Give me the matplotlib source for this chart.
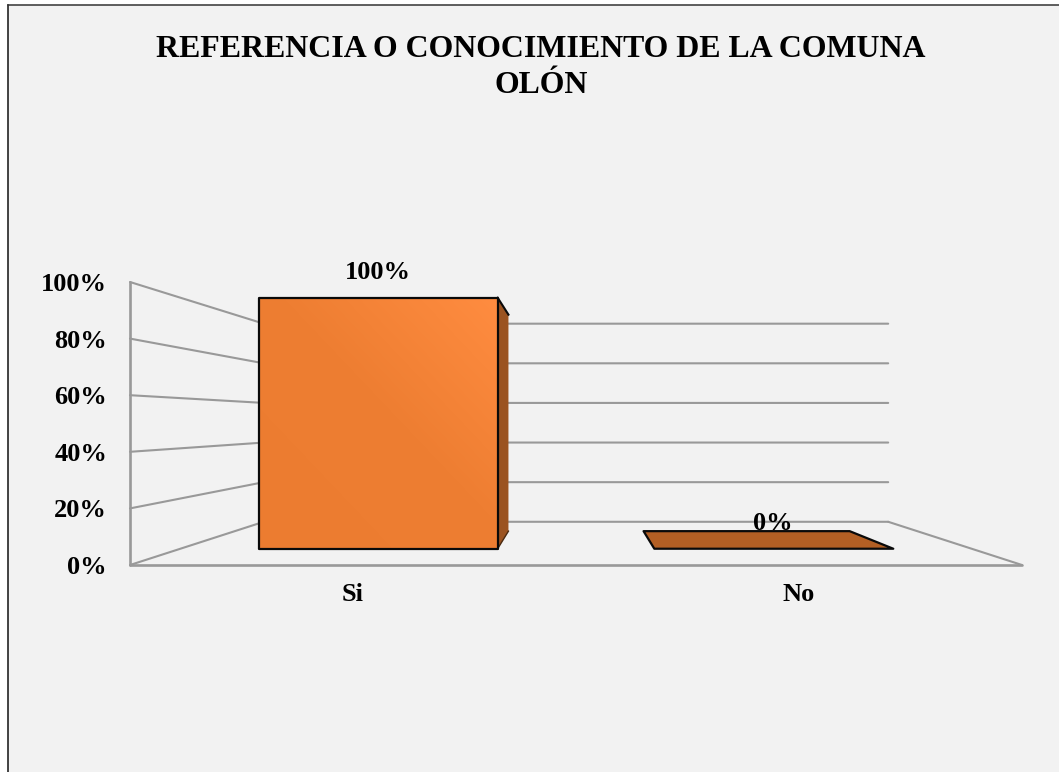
import numpy as np
import matplotlib
matplotlib.use("Agg")
import matplotlib.pyplot as plt
from matplotlib.patches import Polygon, Rectangle
from matplotlib.lines import Line2D
from matplotlib.colors import LinearSegmentedColormap

title = "REFERENCIA O CONOCIMIENTO DE LA COMUNA\nOLÓN"
categories = ["Si", "No"]
values = [100, 0]
value_labels = ["100%", "0%"]
yticks = [0, 20, 40, 60, 80, 100]
ytick_labels = ["0%", "20%", "40%", "60%", "80%", "100%"]

W, H = 1059, 772
BG = "#f2f2f2"
GRID = "#999999"
plt.rcParams["font.family"] = ["Liberation Serif"]
plt.rcParams["font.weight"] = "bold"

fig = plt.figure(figsize=(W / 100, H / 100), dpi=100, facecolor="white")
fig.add_artist(Rectangle((8 / W, 0), 1 - 8 / W, 1 - 4.5 / H, transform=fig.transFigure,
                         facecolor=BG, edgecolor="none", zorder=-5))
fig.add_artist(Line2D([8 / W, 8 / W], [0, 1 - 4.5 / H], color="#111111", lw=1.1, zorder=-4))
fig.add_artist(Line2D([8 / W, 1], [1 - 4.5 / H, 1 - 4.5 / H], color="#333333", lw=1.1, zorder=-4))

# front plane of the chart: x 130..1022 px, y 565..282 px
ax = fig.add_axes([130 / W, 1 - 565 / H, 892 / W, 283 / H], facecolor="none")
ax.set_xlim(-0.5, len(categories) - 0.5)
ax.set_ylim(0, 100)
for s in ax.spines.values():
    s.set_visible(False)
ax.set_xticks(range(len(categories)), categories)
ax.set_yticks(yticks, ytick_labels)
ax.tick_params(axis="both", length=0, labelsize=19)
ax.tick_params(axis="y", pad=16.5)
ax.tick_params(axis="x", pad=13)
for tl_ in ax.get_yticklabels():
    tl_.set_y(tl_.get_position()[1])

# perspective towards the centre of the plot box
XC, YC = 0.5, 50.9
F_WALL, F_FRONT, F_BACK = 0.70, 0.887, 0.765
HALF = 0.302


def proj(x, y, f):
    return (XC + (x - XC) * f, YC + (y - YC) * f)


x0, x1 = ax.get_xlim()
kw = dict(color=GRID, lw=1.5, solid_capstyle="round", clip_on=False, zorder=1)
for t in yticks:
    a = proj(x0, t, 1)
    b = proj(x0, t, F_WALL)
    c = proj(x1, t, F_WALL)
    ax.plot([a[0], b[0], c[0]], [a[1], b[1], c[1]], **kw)
ax.plot([x0, x0], [0, 100], **{**kw, "lw": 1.9})
ax.plot([x0, x1], [0, 0], **{**kw, "lw": 1.9})
a = proj(x1, 0, F_WALL)
ax.plot([a[0], x1], [a[1], 0], **kw)

cmap = LinearSegmentedColormap.from_list(
    "o", [(0, "#ec7c30"), (0.55, "#ee7e32"), (1, "#ff8c40")])
EDGE = dict(edgecolor="#0a0a0a", lw=1.6, joinstyle="round", clip_on=False)
grad = np.add.outer(np.linspace(1, 0, 64), np.linspace(0, 1, 64)) / 2

for i, (v, lab) in enumerate(zip(values, value_labels)):
    l, r = i - HALF, i + HALF
    fl = proj(l, 0, F_FRONT)
    fr = proj(r, 0, F_FRONT)
    tl = proj(l, v, F_FRONT)
    tr = proj(r, v, F_FRONT)
    bl = proj(l, v, F_BACK)
    br = proj(r, v, F_BACK)
    br0 = proj(r, 0, F_BACK)
    if v > 0:
        ax.add_patch(Polygon([fr, tr, br, br0], facecolor="#9b5320", edgecolor="none",
                             clip_on=False, zorder=3))
        ax.plot([tr[0], br[0]], [tr[1], br[1]], color="#0a0a0a", lw=1.5, clip_on=False, zorder=3.5)
        ax.plot([fr[0], br0[0]], [fr[1], br0[1]], color="#4a2a10", lw=1.0, clip_on=False, zorder=3.5)
        front = Polygon([fl, fr, tr, tl], facecolor="none", zorder=5, **EDGE)
        ax.add_patch(front)
        im = ax.imshow(grad, cmap=cmap, extent=(fl[0], fr[0], fl[1], tl[1]),
                       aspect="auto", origin="upper", zorder=4, interpolation="bilinear")
        im.set_clip_path(front)
    else:
        ax.add_patch(Polygon([tl, tr, br, bl], facecolor="#b35f24", zorder=3, **EDGE))
    ax.annotate(lab, ((tl[0] + tr[0]) / 2, tl[1]), xytext=(-0.5, 18.2), textcoords="offset points",
                ha="center", va="center", fontsize=19, annotation_clip=False, zorder=6)

ax.set_xlim(x0, x1)
ax.set_ylim(0, 100)

fig.text(541 / W, 1 - 67.5 / H, title, ha="center", va="center", fontsize=22.95, linespacing=1.35)
fig.savefig("out.png", dpi=100, facecolor="white")
